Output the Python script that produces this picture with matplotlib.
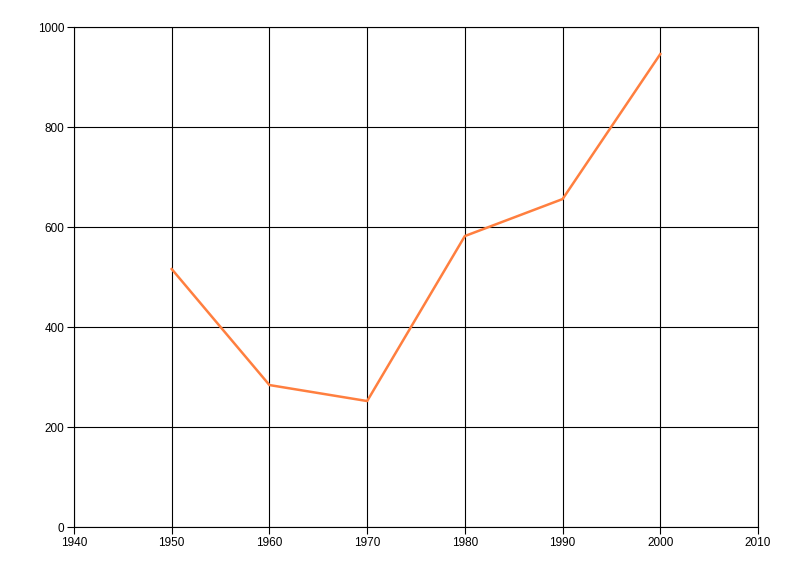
import matplotlib.pyplot as plt

plt.rcParams['font.family'] = ['Liberation Sans', 'DejaVu Sans']

years = [1950, 1960, 1970, 1980, 1990, 2000]
values = [516, 284, 252, 582, 656, 946]

x_ticks = [1940, 1950, 1960, 1970, 1980, 1990, 2000, 2010]
y_ticks = [0, 200, 400, 600, 800, 1000]

fig = plt.figure(figsize=(8, 5.76), dpi=100)
ax = fig.add_axes([0.0925, 0.085, 0.855, 0.868])

ax.plot(years, values, color="#ff7f3f", linewidth=1.8)

ax.set_xlim(1940, 2010)
ax.set_ylim(0, 1000)
ax.set_xticks(x_ticks)
ax.set_yticks(y_ticks)
ax.grid(True, color="black", linewidth=0.8)
ax.set_axisbelow(True)
ax.tick_params(labelsize=8.5, length=5, width=0.8, color="black", pad=2)
for s in ax.spines.values():
    s.set_linewidth(0.8)

fig.savefig("out.png", dpi=100)
